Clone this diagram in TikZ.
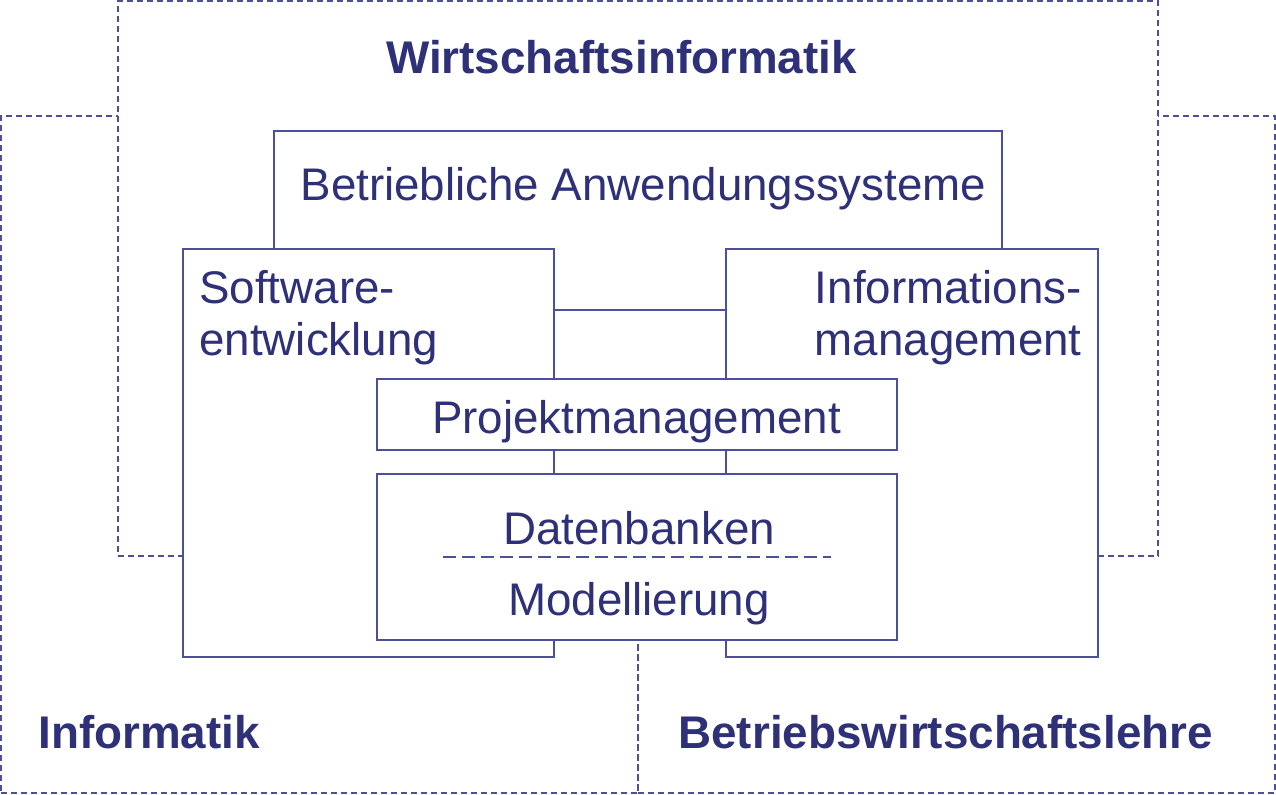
\documentclass[tikz,border=0pt]{standalone}
\usepackage{fontspec}
\setmainfont{Liberation Sans}
\usetikzlibrary{positioning}
\definecolor{winavy}{HTML}{2E3078}
\definecolor{wiframe}{HTML}{4C509A}
\tikzset{
  fach/.style={draw=wiframe, line width=1pt, dash pattern=on 3pt off 2pt,
    anchor=north west, inner sep=0pt, outer sep=0pt},
  gebiet/.style={draw=wiframe, fill=white, line width=1pt,
    anchor=north west, inner sep=0pt, outer sep=0pt},
  fachname/.style={text=winavy, font=\bfseries\fontsize{22.9}{26}\selectfont, inner sep=0pt},
  thema/.style={text=winavy, font=\fontsize{22.85}{26}\selectfont, inner sep=0pt}
}
\begin{document}
\begin{tikzpicture}[x=0.5pt, y=-0.5pt]
  \useasboundingbox (0,0) rectangle (1276,794);

  % Fachgebiete (gestrichelt)
  \node[fach, minimum width=318.5pt, minimum height=338.5pt] (inf) at (1,116) {};
  \node[fach, minimum width=318.5pt, minimum height=338.5pt] (bwl) at (638,116) {};
  \node[fach, fill=white, minimum width=520pt, minimum height=277.5pt] (wi) at (118,1) {};

  \node[fachname, anchor=base] (wit) at (621.5,73) {Wirtschaftsinformatik};
  \node[fachname, anchor=base west] (inft) at (38,748) {Informatik};
  \node[fachname, anchor=base west] (bwlt) at (678,748) {Betriebswirtschaftslehre};

  % Betriebliche Anwendungssysteme
  \node[gebiet, draw=none, minimum width=364pt, minimum height=59pt] (bas) at (274,131) {};
  \draw[wiframe, line width=1pt] (bas.south west) |- (bas.north east) -- (bas.south east);
  \node[thema, anchor=base] (bast) at (643.5,200) {Betriebliche Anwendungssysteme};

  % Softwareentwicklung und Informationsmanagement
  \node[gebiet, minimum width=185.5pt, minimum height=204pt] (sw) at (183,249) {};
  \node[gebiet, minimum width=186pt, minimum height=204pt] (im) at (726,249) {};
  \draw[wiframe, line width=1pt] ([yshift=-30.5pt]sw.north east) -- ([yshift=-30.5pt]im.north west);
  \node[thema, align=left, anchor=base west] (swt) at (199,355) {Software-\\entwicklung};
  \node[thema, align=right, anchor=base east] (imt) at (1082,355) {Informations-\\management};

  % Projektmanagement
  \node[gebiet, minimum width=260pt, minimum height=35.5pt] (pm) at (377,379) {};
  \node[thema, anchor=base] (pmt) at (636.5,433) {Projektmanagement};

  % Datenbanken / Modellierung
  \node[gebiet, minimum width=260pt, minimum height=83pt] (db) at (377,474) {};
  \draw[wiframe, line width=1pt, dash pattern=on 6.5pt off 3pt]
    ([xshift=-97pt]db.center) -- ([xshift=97pt]db.center);
  \node[thema, anchor=base] (dbt) at (639,544) {Datenbanken};
  \node[thema, anchor=base] (mod) at (639,615) {Modellierung};
\end{tikzpicture}
\end{document}
